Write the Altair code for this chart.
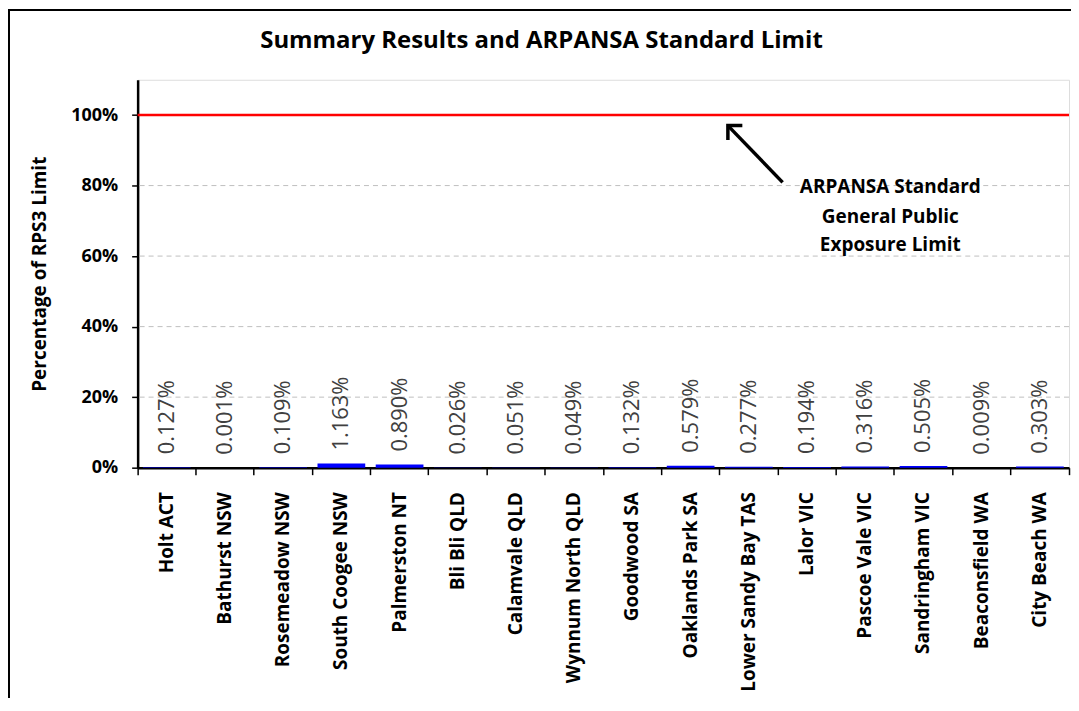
import altair as alt
import pandas as pd

# ---- data ----
sites = ["Holt ACT", "Bathurst NSW", "Rosemeadow NSW", "South Coogee NSW",
         "Palmerston NT", "Bli Bli QLD", "Calamvale QLD", "Wynnum North QLD",
         "Goodwood SA", "Oaklands Park SA", "Lower Sandy Bay TAS", "Lalor VIC",
         "Pascoe Vale VIC", "Sandringham VIC", "Beaconsfield WA", "City Beach WA"]
values = [0.127, 0.001, 0.109, 1.163, 0.890, 0.026, 0.051, 0.049,
          0.132, 0.579, 0.277, 0.194, 0.316, 0.505, 0.009, 0.303]
y_ticks = [0, 10, 20, 30, 40, 50, 60, 70, 80, 90, 100, 110]
grid_values = [20, 40, 60, 80]
limit_value = [100]
title_text = "Summary Results and ARPANSA Standard Limit"
y_title = "Percentage of RPS3 Limit"
note_lines = ["ARPANSA Standard", "General Public", "Exposure Limit"]
note_line_y = [79.5, 71.0, 63.1]
note_line_x = [12.93, 12.93, 12.93]
arrow_from = [11.08, 80.9]
arrow_to = [10.14, 97.0]

W, H = 934, 389
N = len(sites)

df = pd.DataFrame({"site": sites, "value": values})
grid_df = pd.DataFrame({"g": grid_values})
limit_df = pd.DataFrame({"lim": limit_value})
notes_df = pd.DataFrame({"line": note_lines, "nx": note_line_x, "ny": note_line_y})
arrow_df = pd.DataFrame({"ax": [arrow_from[0]], "ay": [arrow_from[1]],
                         "bx": [arrow_to[0]], "by": [arrow_to[1]]})
head_df = pd.DataFrame({"hx": [arrow_to[0]], "hy": [arrow_to[1]]})

FONT = "Open Sans"

y_enc = alt.Y(
    "value:Q",
    scale=alt.Scale(domain=[0, 110], nice=False, zero=True),
    axis=alt.Axis(
        title=y_title, values=y_ticks,
        labelExpr="datum.value % 20 == 0 && datum.value <= 100 ? datum.value + '%' : ''",
        grid=False, labelFont=FONT, labelFontSize=18, labelFontWeight="bold",
        labelColor="black", labelPadding=14, tickSize=6, tickWidth=1.5,
        tickColor="black", domainColor="black", domainWidth=2.5,
        titleFont=FONT, titleFontSize=19, titleFontWeight="bold",
        titleColor="black", titleX=-98, titleY=H / 2, titleAngle=270,
        titleAlign="center", titleBaseline="middle",
    ),
)

x_nom = alt.X(
    "site:N", sort=sites,
    scale=alt.Scale(paddingInner=0, paddingOuter=0),
    axis=alt.Axis(
        title=None, labelAngle=270, labelAlign="right", labelBaseline="middle",
        labelFont=FONT, labelFontSize=19, labelFontWeight="bold",
        labelColor="black", labelPadding=17, labelLimit=400, labelOverlap=False,
        tickSize=7, tickWidth=1.5, tickColor="black", bandPosition=0,
        domainColor="black", domainWidth=2.5, grid=False,
    ),
)

grid = alt.Chart(grid_df).mark_rule(color="#BFBFBF", strokeWidth=1, strokeDash=[5, 4]).encode(
    y=alt.Y("g:Q")
)
limit = alt.Chart(limit_df).mark_rule(color="#FF0000", strokeWidth=2.5).encode(
    y=alt.Y("lim:Q")
)
bars = alt.Chart(df).mark_bar(color="#0000FF", width=alt.RelativeBandSize(0.82)).encode(
    x=x_nom, y=y_enc
)
labels = alt.Chart(df).transform_calculate(
    label="format(datum.value, '.3f') + '%'"
).mark_text(
    angle=270, align="left", baseline="middle", dx=13,
    font=FONT, fontSize=22, color="#404040",
).encode(x=alt.X("site:N", sort=sites), y=alt.Y("value:Q"), text="label:N")

main = alt.layer(bars, grid, limit, labels)

x_q = alt.X(
    "ax:Q", scale=alt.Scale(domain=[0, N], nice=False, zero=False),
    axis=alt.Axis(orient="bottom", values=[N], labels=False, domain=False,
                  grid=False, tickSize=7, tickWidth=1.5, tickColor="black", title=None),
)
arrow = alt.Chart(arrow_df).mark_rule(color="black", strokeWidth=3.5).encode(
    x=x_q, y=alt.Y("ay:Q"), x2="bx:Q", y2="by:Q"
)
head = alt.Chart(head_df).mark_point(
    shape="M-1,1L0,0L1,1", size=420, filled=False, strokeWidth=3.5,
    color="black", angle=315, opacity=1,
).encode(x=alt.X("hx:Q"), y=alt.Y("hy:Q"))
notes = alt.Chart(notes_df).mark_text(
    font=FONT, fontSize=19, fontWeight="bold", color="black",
    align="center", baseline="middle",
).encode(x=alt.X("nx:Q"), y=alt.Y("ny:Q"), text="line:N")

title = alt.Chart(limit_df).mark_text(
    text=title_text, font=FONT, fontSize=24, fontWeight="bold", color="black",
    align="center", baseline="middle",
).encode(x=alt.value(405), y=alt.value(-39))

frame = alt.Chart(limit_df).mark_rect(
    fillOpacity=0, stroke="black", strokeWidth=2
).encode(x=alt.value(-129), x2=alt.value(W + 200), y=alt.value(-70), y2=alt.value(H + 400))

annot = alt.layer(arrow, head, notes)

chart = alt.layer(main, annot, title, frame).resolve_scale(x="independent").properties(
    width=W, height=H,
    autosize=alt.AutoSizeParams(type="none"),
    padding={"left": 130, "top": 71, "right": 2, "bottom": 230},
).configure_view(stroke="black", strokeWidth=1.5).configure(background="white")

chart.save("out.html", embed_options={"renderer": "svg", "actions": False})
